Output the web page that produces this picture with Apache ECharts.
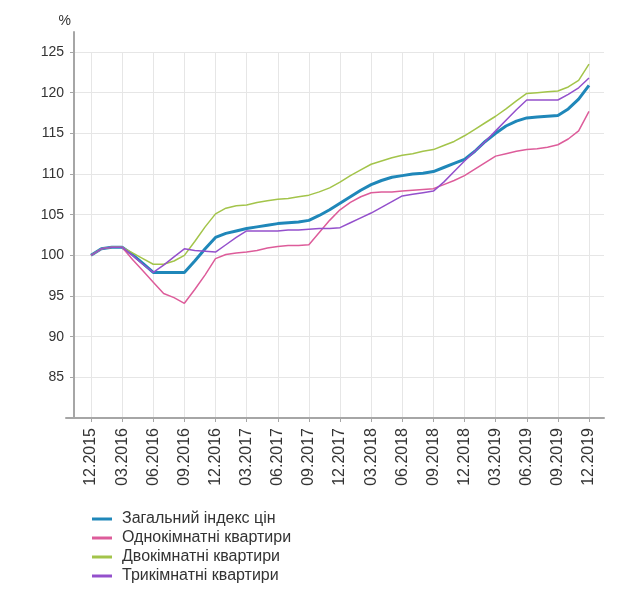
<!DOCTYPE html>
<html>
<head>
<meta charset="utf-8">
<script src="https://cdn.jsdelivr.net/npm/echarts@6/dist/echarts.min.js"></script>
<style>
html,body{margin:0;padding:0;background:#fff;}
#c{width:630px;height:589px;}
</style>
</head>
<body>
<div id="c"></div>
<script>
var months = ["12.2015","01.2016","02.2016","03.2016","04.2016","05.2016","06.2016","07.2016","08.2016","09.2016","10.2016","11.2016",
"12.2016","01.2017","02.2017","03.2017","04.2017","05.2017","06.2017","07.2017","08.2017","09.2017","10.2017","11.2017",
"12.2017","01.2018","02.2018","03.2018","04.2018","05.2018","06.2018","07.2018","08.2018","09.2018","10.2018","11.2018",
"12.2018","01.2019","02.2019","03.2019","04.2019","05.2019","06.2019","07.2019","08.2019","09.2019","10.2019","11.2019","12.2019"];

var seriesNames = ["Загальний індекс цін","Однокімнатні квартири","Двокімнатні квартири","Трикімнатні квартири"];

var totalIndex = [100.0,100.8,101.0,101.0,100.1,99.0,97.9,97.9,97.9,97.9,99.3,100.8,
102.2,102.7,103.0,103.3,103.5,103.7,103.9,104.0,104.1,104.3,104.9,105.6,
106.4,107.2,108.0,108.7,109.2,109.6,109.8,110.0,110.1,110.3,110.8,111.3,
111.8,112.8,114.0,115.0,115.9,116.5,116.9,117.0,117.1,117.2,118.0,119.2,120.9];

var oneRoom = [100.0,100.8,101.0,101.0,99.5,98.1,96.7,95.3,94.8,94.1,95.8,97.6,
99.6,100.1,100.3,100.4,100.6,100.9,101.1,101.2,101.2,101.3,102.8,104.3,
105.6,106.5,107.2,107.7,107.8,107.8,107.9,108.0,108.1,108.2,108.7,109.2,
109.8,110.6,111.4,112.2,112.5,112.8,113.0,113.1,113.3,113.6,114.3,115.3,117.7];

var twoRoom = [100.0,100.8,101.0,101.0,100.3,99.6,98.9,98.9,99.3,100.0,101.7,103.5,
105.1,105.8,106.1,106.2,106.5,106.7,106.9,107.0,107.2,107.4,107.8,108.3,
109.0,109.8,110.5,111.2,111.6,112.0,112.3,112.5,112.8,113.0,113.5,114.0,
114.7,115.5,116.3,117.1,118.0,119.0,119.9,120.0,120.1,120.2,120.7,121.5,123.5];

var threeRoom = [100.0,100.8,101.0,101.0,100.0,98.9,97.9,98.8,99.8,100.8,100.6,100.5,
100.4,101.3,102.2,103.0,103.0,103.0,103.0,103.1,103.1,103.2,103.3,103.3,
103.4,104.0,104.6,105.2,105.9,106.6,107.3,107.5,107.7,107.9,109.0,110.3,
111.6,112.8,114.0,115.3,116.6,117.9,119.1,119.1,119.1,119.1,119.8,120.6,121.8];

var yMin = 80, yMax = 125, yStep = 5;

var FONT = "'Liberation Sans', Arial, sans-serif";
var axisGray = '#a6a6a6';
var gridGray = '#e6e6e6';
var txt = '#333333';

var chart = echarts.init(document.getElementById('c'), null, {renderer:'canvas'});

var option = {
  backgroundColor: '#ffffff',
  animation: false,
  textStyle: {fontFamily: FONT},
  grid: [
    {left: 66, right: 26, top: 32, bottom: 171},
    {left: 74, right: 26, top: 52, bottom: 171},
    {left: 91, right: 41, top: 52, bottom: 171}
  ],
  legend: {
    orient: 'vertical',
    left: 92,
    top: 511,
    padding: 0,
    itemGap: 3,
    itemWidth: 20,
    itemHeight: 3,
    icon: 'rect',
    textStyle: {fontSize: 16, color: txt, fontFamily: FONT, padding: [0,0,0,5]},
    data: seriesNames
  },
  xAxis: [
    {gridIndex: 0, type: 'value', min: 0, max: 1,
     axisLine: {show: true, lineStyle: {color: axisGray, width: 2}},
     axisTick: {show: false}, axisLabel: {show: false}, splitLine: {show: false}},
    {gridIndex: 1, type: 'value', min: 0, max: 1, show: false},
    {gridIndex: 2, type: 'category', data: months, boundaryGap: false,
     axisLine: {show: false},
     axisTick: {show: true, interval: 2, length: 4, lineStyle: {color: axisGray, width: 1}},
     axisLabel: {interval: 2, rotate: 90, fontSize: 16, color: txt, margin: 10, fontFamily: FONT},
     splitLine: {show: true, interval: 2, lineStyle: {color: gridGray, width: 1}}}
  ],
  yAxis: [
    {gridIndex: 0, type: 'value', min: 0, max: 1, offset: -8,
     axisLine: {show: true, lineStyle: {color: axisGray, width: 2}},
     axisTick: {show: false}, axisLabel: {show: false}, splitLine: {show: false},
     name: '%', nameLocation: 'end', nameGap: 4,
     nameTextStyle: {align: 'right', color: txt, fontSize: 14, fontFamily: FONT, padding: [0, 3, 0, 0]}},
    {gridIndex: 1, type: 'value', min: yMin, max: yMax, interval: yStep,
     axisLine: {show: false},
     axisTick: {show: true, length: 4, lineStyle: {color: axisGray, width: 1}},
     axisLabel: {showMinLabel: false, fontSize: 14, color: txt, margin: 10, fontFamily: FONT},
     splitLine: {show: true, lineStyle: {color: gridGray, width: 1}}},
    {gridIndex: 2, type: 'value', min: yMin, max: yMax, interval: yStep, show: false}
  ],
  series: [
    {name: seriesNames[0], type: 'line', xAxisIndex: 2, yAxisIndex: 2, data: totalIndex,
     showSymbol: false, symbol: 'none', color: '#1f87b9', lineStyle: {width: 3, color: '#1f87b9'}, z: 3},
    {name: seriesNames[1], type: 'line', xAxisIndex: 2, yAxisIndex: 2, data: oneRoom,
     showSymbol: false, symbol: 'none', color: '#dd5c9a', lineStyle: {width: 1.5, color: '#dd5c9a'}, z: 4},
    {name: seriesNames[2], type: 'line', xAxisIndex: 2, yAxisIndex: 2, data: twoRoom,
     showSymbol: false, symbol: 'none', color: '#a3c44a', lineStyle: {width: 1.5, color: '#a3c44a'}, z: 4},
    {name: seriesNames[3], type: 'line', xAxisIndex: 2, yAxisIndex: 2, data: threeRoom,
     showSymbol: false, symbol: 'none', color: '#9450cc', lineStyle: {width: 1.5, color: '#9450cc'}, z: 5}
  ]
};
chart.setOption(option);
</script>
</body>
</html>
